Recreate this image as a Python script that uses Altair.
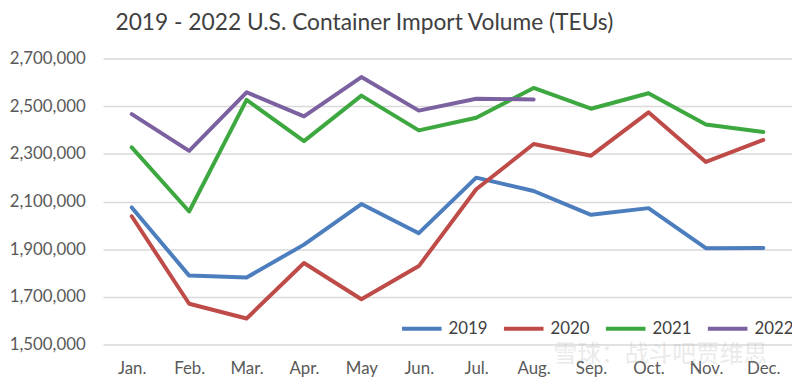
import altair as alt
import pandas as pd

months = ["Jan.", "Feb.", "Mar.", "Apr.", "May", "Jun.", "Jul.", "Aug.", "Sep.", "Oct.", "Nov.", "Dec."]
years = ["2019", "2020", "2021", "2022"]
v2019 = [2075000, 1789000, 1781000, 1919000, 2089000, 1967000, 2200000, 2144000, 2044000, 2072000, 1904000, 1905000]
v2020 = [2038000, 1671000, 1609000, 1842000, 1690000, 1829000, 2151000, 2341000, 2292000, 2474000, 2266000, 2358000]
v2021 = [2327000, 2058000, 2526000, 2353000, 2544000, 2398000, 2451000, 2576000, 2489000, 2554000, 2423000, 2391000]
v2022 = [2466000, 2312000, 2558000, 2457000, 2622000, 2481000, 2531000, 2528000]
colors = ["#4C7EBE", "#BE4B48", "#3DA83F", "#7B61A0"]
y_ticks = [1500000, 1700000, 1900000, 2100000, 2300000, 2500000, 2700000]
title_text = "2019 - 2022 U.S. Container Import Volume (TEUs)"
watermark = "雪球：战斗吧贾维思"

rows = []
for yr, vals in zip(years, [v2019, v2020, v2021, v2022]):
    for m, v in zip(months, vals):
        rows.append({"month": m, "year": yr, "value": v})
df = pd.DataFrame(rows)

lines = alt.Chart(df).mark_line(strokeWidth=4, strokeCap="round", strokeJoin="round").encode(
    x=alt.X("month:O", sort=months, title=None,
            scale=alt.Scale(padding=0.5),
            axis=alt.Axis(labelAngle=0, labelFontSize=17, labelColor="#595959", labelFont="Lato",
                          labelPadding=16, domain=False, ticks=False, grid=False)),
    y=alt.Y("value:Q", title=None,
            scale=alt.Scale(domain=[1500000, 2700000], nice=False, zero=False),
            axis=alt.Axis(values=y_ticks, format=",d", labelFontSize=17, labelColor="#595959",
                          labelFont="Lato", labelPadding=18, domain=False, ticks=False,
                          gridColor="#d9d9d9", gridWidth=1.5)),
    color=alt.Color("year:N", scale=alt.Scale(domain=years, range=colors),
                    legend=alt.Legend(orient="none", legendX=300, legendY=251, direction="horizontal",
                                      title=None, symbolType="stroke", symbolSize=1600,
                                      symbolStrokeWidth=4, labelFontSize=17, labelFont="Lato",
                                      labelColor="#404040", columnPadding=8, labelOffset=5,
                                      padding=0)),
)

wm = alt.Chart(pd.DataFrame({"t": [watermark]})).mark_text(
    fontSize=24, font="Noto Sans CJK SC", color="#bbbbbb", opacity=0.3, align="left", baseline="middle"
).encode(text="t:N", x=alt.value(455), y=alt.value(300))

chart = alt.layer(lines, wm).properties(
    width=696, height=289,
    title=alt.TitleParams(title_text, fontSize=23, font="Lato", fontWeight="normal", color="#404040",
                          anchor="middle", dx=-84, offset=15),
    autosize=alt.AutoSizeParams(type="none"),
    padding={"left": 96, "top": 49, "right": 0, "bottom": 41},
).configure_view(stroke=None)

chart.save("out.html", embed_options={"renderer": "svg", "actions": False})
